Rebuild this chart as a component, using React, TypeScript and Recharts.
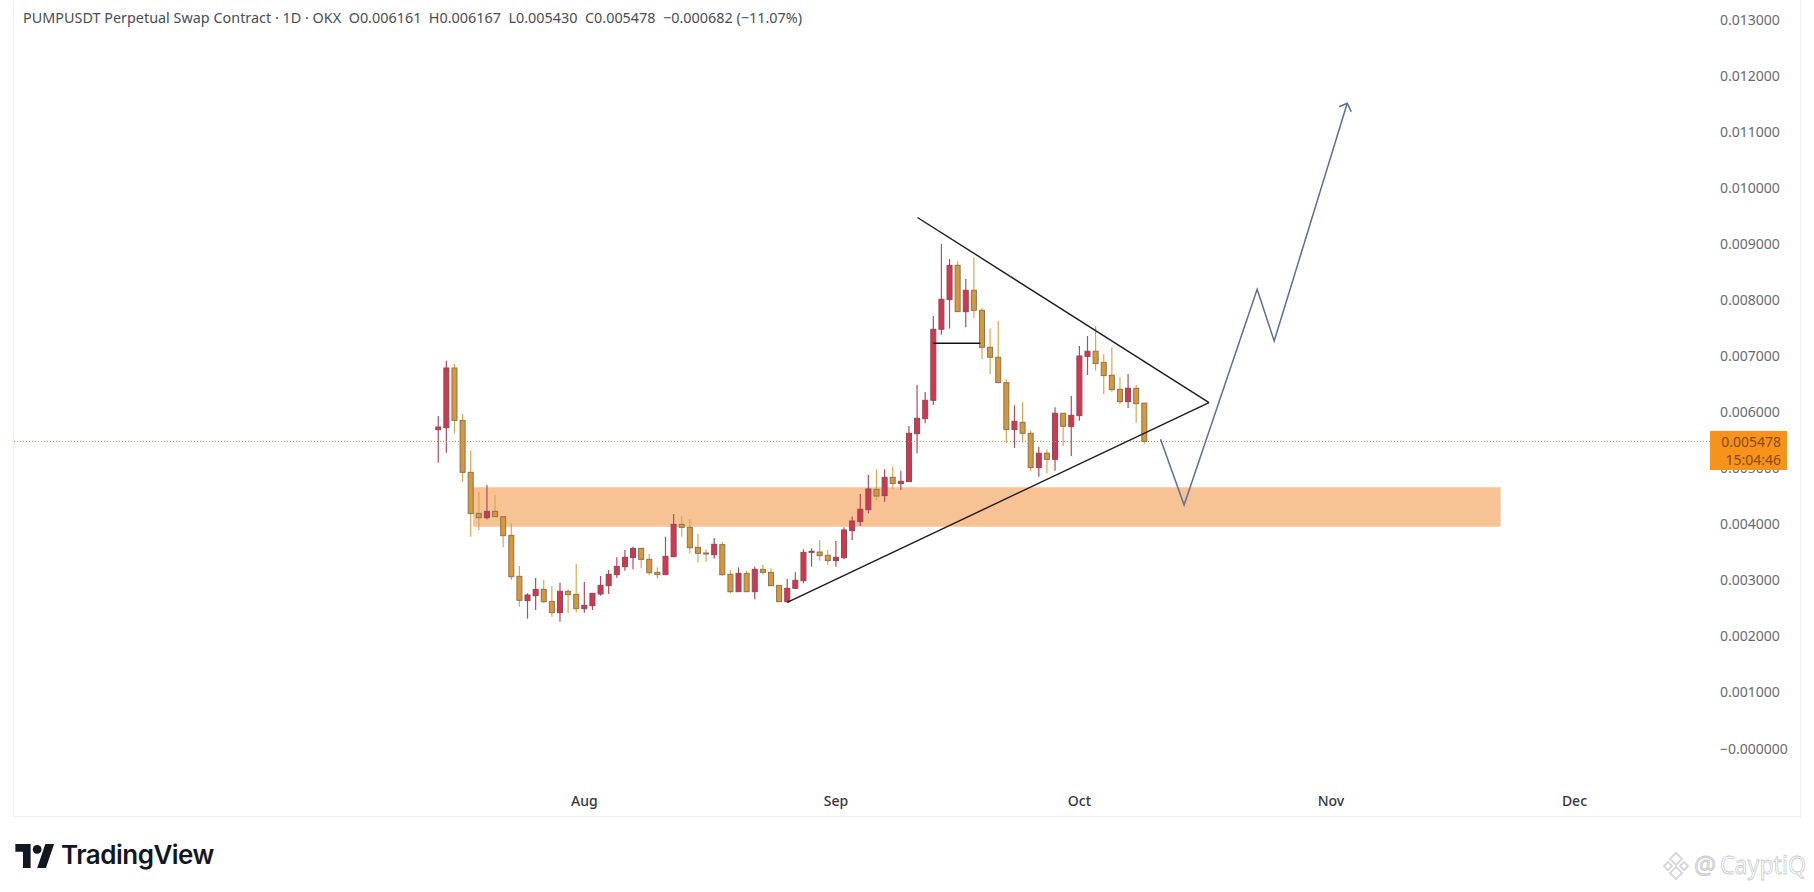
import {
  ComposedChart,
  Bar,
  Line,
  XAxis,
  YAxis,
  ReferenceArea,
  ReferenceLine,
} from "recharts";

// day 0 is Jul 14; one value per daily candle (prices in USDT)
const opens = [
  0.005688, 0.005723, 0.006788, 0.005854, 0.004927, 0.004196, 0.004118, 0.004231, 0.004136, 0.003803,
  0.003072, 0.002638, 0.002727, 0.00284, 0.002626, 0.002424, 0.002805, 0.002751, 0.002495, 0.002549,
  0.002757, 0.002905, 0.003102, 0.003244, 0.003405, 0.003571, 0.003375, 0.003143, 0.003102, 0.003423,
  0.003999, 0.003946, 0.003589, 0.003488, 0.003458, 0.003637, 0.003108, 0.002798, 0.003125, 0.002798,
  0.003197, 0.003143, 0.002911, 0.00262, 0.002858, 0.002995, 0.003512, 0.003506, 0.003447, 0.003352,
  0.003405, 0.003887, 0.004048, 0.004262, 0.004624, 0.004511, 0.004838, 0.004726, 0.004761, 0.005617,
  0.005885, 0.006212, 0.007478, 0.008007, 0.008619, 0.007793, 0.008174, 0.007817, 0.007157, 0.006979,
  0.006527, 0.005689, 0.005819, 0.005623, 0.005011, 0.005267, 0.005159, 0.00598, 0.005742, 0.005938,
  0.006996, 0.007086, 0.006889, 0.006658, 0.006408, 0.006188, 0.006426, 0.006161,
];
const highs = [
  0.005932, 0.006918, 0.006859, 0.005967, 0.005313, 0.004582, 0.004701, 0.004523, 0.004136, 0.004017,
  0.003256, 0.002769, 0.003042, 0.003007, 0.0029, 0.002959, 0.00284, 0.003292, 0.002971, 0.002769,
  0.003078, 0.003185, 0.003411, 0.003542, 0.003601, 0.003571, 0.00347, 0.003232, 0.003779, 0.004184,
  0.004154, 0.004089, 0.003827, 0.003554, 0.003756, 0.003684, 0.003185, 0.003232, 0.003173, 0.003244,
  0.00328, 0.003215, 0.002911, 0.003024, 0.003143, 0.003554, 0.003572, 0.003721, 0.003542, 0.003703,
  0.003946, 0.004137, 0.004541, 0.00488, 0.004981, 0.004981, 0.005029, 0.004957, 0.005754, 0.006485,
  0.00636, 0.007716, 0.009, 0.008732, 0.008691, 0.008376, 0.008762, 0.007853, 0.00749, 0.007627,
  0.006586, 0.006123, 0.006182, 0.005671, 0.005385, 0.005338, 0.006087, 0.00598, 0.006289, 0.007181,
  0.007359, 0.007537, 0.007038, 0.007157, 0.006622, 0.006681, 0.006485, 0.006167,
];
const lows = [
  0.005099, 0.005278, 0.005622, 0.00476, 0.003779, 0.003898, 0.004089, 0.004136, 0.003589, 0.003007,
  0.002531, 0.002317, 0.002471, 0.00259, 0.002353, 0.002263, 0.002424, 0.002424, 0.002424, 0.002471,
  0.002727, 0.002757, 0.003048, 0.003173, 0.003197, 0.003215, 0.00309, 0.00303, 0.003102, 0.003411,
  0.003779, 0.003482, 0.003316, 0.003334, 0.003387, 0.003078, 0.002769, 0.002798, 0.002798, 0.002662,
  0.003102, 0.002905, 0.00262, 0.002602, 0.002858, 0.002947, 0.003245, 0.003352, 0.003275, 0.003245,
  0.003376, 0.003721, 0.00397, 0.004196, 0.004434, 0.004404, 0.004624, 0.004612, 0.004761, 0.005267,
  0.005802, 0.006129, 0.007383, 0.00749, 0.007793, 0.007514, 0.00768, 0.006943, 0.006681, 0.006515,
  0.005445, 0.005362, 0.005457, 0.004957, 0.00485, 0.00491, 0.004957, 0.005397, 0.005219, 0.005849,
  0.006664, 0.006741, 0.006325, 0.006366, 0.006146, 0.006075, 0.005813, 0.00543,
];
const closes = [
  0.005735, 0.006788, 0.005854, 0.004927, 0.00419, 0.004118, 0.004231, 0.004136, 0.003797, 0.003066,
  0.002644, 0.002739, 0.00284, 0.00262, 0.002424, 0.002805, 0.002745, 0.002495, 0.002555, 0.002769,
  0.002911, 0.003108, 0.00325, 0.003411, 0.003571, 0.003375, 0.003137, 0.003102, 0.003429, 0.003999,
  0.003946, 0.003583, 0.003482, 0.003482, 0.003643, 0.003102, 0.002798, 0.003125, 0.002798, 0.003197,
  0.003143, 0.002905, 0.00262, 0.002858, 0.003001, 0.0035, 0.003518, 0.003441, 0.003352, 0.003411,
  0.003899, 0.004059, 0.004268, 0.00463, 0.004505, 0.004838, 0.004726, 0.004767, 0.005623, 0.005891,
  0.006212, 0.007478, 0.008013, 0.008619, 0.007793, 0.008174, 0.007817, 0.007157, 0.006979, 0.006527,
  0.005689, 0.005837, 0.005623, 0.005011, 0.005267, 0.005159, 0.00598, 0.005748, 0.005944, 0.007002,
  0.007086, 0.006866, 0.006652, 0.006402, 0.006188, 0.006426, 0.006152, 0.005478,
];

const priceTicks = [
  0, 0.001, 0.002, 0.003, 0.004, 0.005, 0.006, 0.007, 0.008, 0.009, 0.01, 0.011, 0.012, 0.013,
];
const monthTicks = [18, 49, 79, 110, 140];
const monthLabels = ["Aug", "Sep", "Oct", "Nov", "Dec"];

const lastPrice = 0.005478;
const zoneDays = [4.3, 130.9];
const zonePrices = [0.003957, 0.00466];

const upperTrend = [
  { day: 59.05, price: 0.009472 },
  { day: 94.97, price: 0.006169 },
];
const lowerTrend = [
  { day: 43, price: 0.002609 },
  { day: 94.97, price: 0.006169 },
];
const flatLine = [
  { day: 61, price: 0.007228 },
  { day: 66.8, price: 0.007228 },
];
const forecast = [
  { day: 89, price: 0.005516 },
  { day: 91.9, price: 0.004345 },
  { day: 100.9, price: 0.008192 },
  { day: 103, price: 0.007269 },
  { day: 112, price: 0.011509 },
];
const arrowHead = [
  { day: 111, price: 0.011448 },
  { day: 112, price: 0.011509 },
  { day: 112.5, price: 0.011359 },
];

const candles = opens.map((open, i) => ({
  day: i,
  open,
  high: highs[i],
  low: lows[i],
  close: closes[i],
}));

const UP = "#d2374f";
const DOWN = "#d8973a";
const BODY_WIDTH = 5;

function Candle(props: any) {
  const { x, y, width, height, payload } = props;
  const { open, high, low, close } = payload;
  const up = close >= open;
  const perUnit = height / (high - low);
  const top = y + (high - Math.max(open, close)) * perUnit;
  const bottom = y + (high - Math.min(open, close)) * perUnit;
  const mid = x + width / 2;
  return (
    <g>
      <line x1={mid} x2={mid} y1={y} y2={y + height} stroke={up ? "#b8485c" : "#e0a548"} strokeWidth={1.2} />
      <rect
        x={mid - BODY_WIDTH / 2}
        y={top}
        width={BODY_WIDTH}
        height={Math.max(bottom - top, 1)}
        fill={up ? UP : DOWN}
        stroke={up ? "#8d4a58" : "#8a7550"}
        strokeWidth={1}
      />
    </g>
  );
}

const tickFont = { fontFamily: "Noto Sans", fontSize: 14, fill: "#666a73" };

export default function App() {
  return (
    <div style={{ position: "absolute", left: 0, top: 0, width: 1814, height: 892, background: "#fff", overflow: "hidden" }}>
      <div
        style={{
          position: "absolute",
          left: 13,
          top: -2,
          width: 1786,
          height: 817,
          border: "1px solid #eeeeee",
        }}
      />
      <div style={{ position: "absolute", left: 0, top: 0 }}>
        <ComposedChart
          width={1800}
          height={816}
          data={candles}
          margin={{ top: 0, right: 0, bottom: 0, left: 13 }}
        >
          <XAxis
            dataKey="day"
            type="number"
            domain={[-52.4, 156.7]}
            allowDataOverflow
            ticks={monthTicks}
            tickFormatter={(v) => monthLabels[monthTicks.indexOf(v)]}
            axisLine={false}
            tickLine={false}
            height={34}
            tickMargin={8}
            tick={{ ...tickFont, fill: "#33363d", fontWeight: 500 }}
          />
          <YAxis
            orientation="right"
            type="number"
            domain={[-0.000596, 0.013351]}
            allowDataOverflow
            ticks={priceTicks}
            tickFormatter={(v) => (v === 0 ? "\u22120.000000" : v.toFixed(6))}
            axisLine={false}
            tickLine={false}
            tickSize={0}
            tickMargin={10}
            width={90}
            tick={tickFont}
            interval={0}
          />
          <ReferenceArea
            x1={zoneDays[0]}
            x2={zoneDays[1]}
            y1={zonePrices[0]}
            y2={zonePrices[1]}
            fill="#f7c294"
            fillOpacity={1}
            stroke="none"
          />
          <ReferenceLine y={lastPrice} stroke="#b08f50" strokeDasharray="1 2" />
          <Bar
            dataKey={(d: any) => [d.low, d.high]}
            barSize={6}
            shape={Candle}
            isAnimationActive={false}
          />
          <Line data={upperTrend} dataKey="price" stroke="#1c1c1c" strokeWidth={1.4} dot={false} isAnimationActive={false} />
          <Line data={lowerTrend} dataKey="price" stroke="#1c1c1c" strokeWidth={1.4} dot={false} isAnimationActive={false} />
          <Line data={flatLine} dataKey="price" stroke="#111111" strokeWidth={1.4} dot={false} isAnimationActive={false} />
          <Line data={forecast} dataKey="price" stroke="#5a6d9c" strokeWidth={1.5} dot={false} isAnimationActive={false} />
          <Line data={arrowHead} dataKey="price" stroke="#5a6d9c" strokeWidth={1.5} dot={false} isAnimationActive={false} />
        </ComposedChart>
      </div>

      <div
        style={{
          position: "absolute",
          left: 23,
          top: 8,
          fontFamily: "Noto Sans",
          fontSize: 14.4,
          lineHeight: "19px",
          color: "#4a4d55",
          whiteSpace: "pre",
        }}
      >
        {"PUMPUSDT Perpetual Swap Contract \u00b7 1D \u00b7 OKX  O0.006161  H0.006167  L0.005430  C0.005478  \u22120.000682 (\u221211.07%)"}
      </div>

      <div
        style={{
          position: "absolute",
          left: 1710,
          top: 431,
          width: 77,
          height: 39,
          background: "#f7931a",
          color: "#8a4a08",
          fontFamily: "Noto Sans",
          fontSize: 14,
          lineHeight: "18px",
          textAlign: "right",
          paddingRight: 6,
          boxSizing: "border-box",
          paddingTop: 2,
        }}
      >
        <div>0.005478</div>
        <div>15:04:46</div>
      </div>

      <svg style={{ position: "absolute", left: 15, top: 844 }} width={40} height={24} viewBox="0 0 36 22">
        <path d="M14 22H7V7H0V0h14v22zM28 22h-8L27.5 0h8L28 22z" fill="#131722" />
        <circle cx="20" cy="5" r="4" fill="#131722" />
      </svg>
      <div
        style={{
          position: "absolute",
          left: 61,
          top: 838,
          fontFamily: "Inter",
          fontWeight: 600,
          fontSize: 26,
          lineHeight: "34px",
          color: "#131722",
          letterSpacing: -0.5,
        }}
      >
        TradingView
      </div>

      <svg style={{ position: "absolute", left: 1661, top: 851 }} width={30} height={30} viewBox="0 0 30 30">
        <g fill="none" stroke="#d8d8d8" strokeWidth={2}>
          <path d="M15 2l6 6-6 6-6-6z" />
          <path d="M15 16l6 6-6 6-6-6z" />
          <path d="M7 11l4 4-4 4-4-4z" />
          <path d="M23 11l4 4-4 4-4-4z" />
        </g>
      </svg>
      <svg style={{ position: "absolute", left: 1692, top: 848 }} width={120} height={36}>
        <g fill="#ffffff" stroke="#c9c9c9" strokeWidth={0.8} fontFamily="Noto Sans" fontSize={25}>
          <text x={2} y={26} fill="#e4e4e4" textLength={22} lengthAdjust="spacingAndGlyphs">@</text>
          <text x={28} y={26} textLength={86} lengthAdjust="spacingAndGlyphs">CayptiQ</text>
        </g>
      </svg>
    </div>
  );
}
